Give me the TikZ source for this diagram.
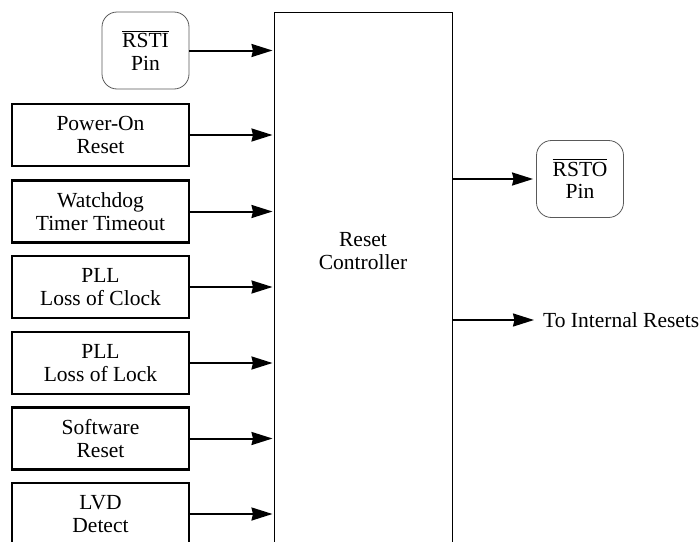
\documentclass[tikz,border=0pt]{standalone}
\usepackage{fontspec}
\setmainfont{Liberation Serif}
\usetikzlibrary{arrows.meta}
\newcommand{\ovl}[1]{\leavevmode\vbox{\hrule height 0.9pt\kern1.5pt\hbox{#1}}}
\begin{document}
\begin{tikzpicture}[x=1pt,y=-1pt,
  src/.style={draw=black,line width=2.2pt,minimum width=177pt,minimum height=62pt,inner sep=0pt,align=center,font=\fontsize{21.5}{22.5}\selectfont},
  pin/.style={draw=black!65,line width=0.8pt,rounded corners=15pt,minimum width=87pt,minimum height=77pt,inner sep=0pt,align=center,font=\fontsize{21.5}{22.5}\selectfont},
  arr/.style={line width=2pt,-{Stealth[length=21pt,width=13pt,inset=1.5pt]},shorten >=1pt},
  lbl/.style={inner sep=0pt,align=center,font=\fontsize{21.5}{22.5}\selectfont}]
\useasboundingbox (0,0) rectangle (699,541);
\clip (0,0) rectangle (699,541);
\node[draw=black,line width=1pt,minimum width=178pt,minimum height=548pt,inner sep=0pt] (ctrl) at (363,286) {};
\node[lbl] (ctrllbl) at (363,251) {Reset\\Controller};
\node[pin] (rsti) at (145.5,50.5) {\ovl{RSTI}\\Pin};
\node[src] (por) at (100.5,135) {Power-On\\Reset};
\node[src] (wdt) at (100.5,211.5) {Watchdog\\Timer Timeout};
\node[src] (loc) at (100.5,287) {PLL\\Loss of Clock};
\node[src] (lol) at (100.5,363) {PLL\\Loss of Lock};
\node[src] (sw) at (100.5,438.5) {Software\\Reset};
\node[src] (lvd) at (100.5,514) {LVD\\Detect};
\node[pin] (rsto) at (580,179) {\ovl{RSTO}\\Pin};
\node[lbl,anchor=west] (ir) at (543,320) {To Internal Resets};
\foreach \n in {rsti,por,wdt,loc,lol,sw,lvd}
  \draw[arr] (\n.east) -- (\n.east -| ctrl.west);
\draw[arr,shorten >=3pt] (ctrl.east |- rsto.west) -- (rsto.west);
\draw[arr,shorten >=9pt] (ctrl.east |- ir.west) -- (ir.west);
\end{tikzpicture}
\end{document}
